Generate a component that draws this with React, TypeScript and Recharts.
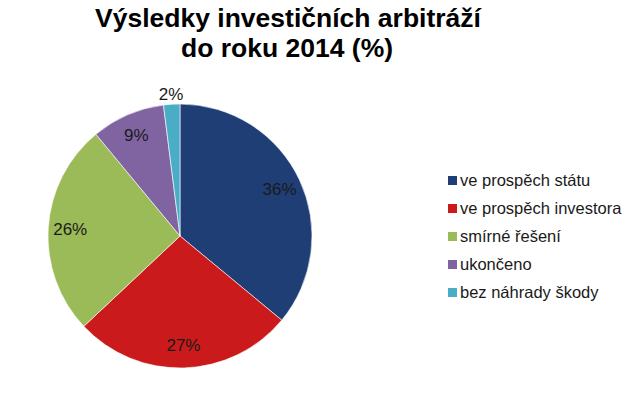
import React from 'react';
import { PieChart, Pie, Cell, Legend } from 'recharts';

const categories = ['ve prospěch státu', 've prospěch investora', 'smírné řešení', 'ukončeno', 'bez náhrady škody'];
const shares = [36, 27, 26, 9, 2];
const colors = ['#1F3E76', '#CB1A1C', '#9BBB59', '#8064A2', '#4BACC6'];
const titleLines = ['Výsledky investičních arbitráží', 'do roku 2014 (%)'];

const data = categories.map((name, i) => ({ name, value: shares[i] }));
const RADIAN = Math.PI / 180;
const font = 'Arial, "Liberation Sans", sans-serif';

const renderLabel = (props: any) => {
  const { cx, cy, midAngle, outerRadius, value } = props;
  // small slices get their label outside, the rest inside near the rim
  const r = value < 5 ? outerRadius + 10 : outerRadius - 22;
  const x = cx + r * Math.cos(-midAngle * RADIAN);
  const y = cy + r * Math.sin(-midAngle * RADIAN);
  return (
    <text x={x} y={y} textAnchor="middle" dominantBaseline="central" fontSize={17} fill="#1a1a1a" fontFamily={font}>
      {`${value}%`}
    </text>
  );
};

// legend in data order (recharts reverses it for pies)
const LegendList = () => (
  <div style={{ fontFamily: font, fontSize: 16.5, color: '#1a1a1a' }}>
    {categories.map((name, i) => (
      <div key={name} style={{ display: 'flex', alignItems: 'center', height: 28, whiteSpace: 'nowrap' }}>
        <span style={{ width: 9, height: 9, background: colors[i], marginRight: 3, display: 'inline-block' }} />
        <span>{name}</span>
      </div>
    ))}
  </div>
);

export default function App() {
  return (
    <div style={{ position: 'fixed', top: 0, left: 0, width: 625, height: 394, background: '#fff' }}>
      <PieChart width={625} height={394} margin={{ top: 0, right: 0, bottom: 0, left: 0 }}>
        <text x={288} y={27} textAnchor="middle" fontSize={26.5} fontWeight="bold" fill="#000" fontFamily={font}>
          {titleLines[0]}
        </text>
        <text x={287} y={57} textAnchor="middle" fontSize={26.5} fontWeight="bold" fill="#000" fontFamily={font}>
          {titleLines[1]}
        </text>
        <Pie
          data={data}
          dataKey="value"
          nameKey="name"
          cx={180}
          cy={236}
          outerRadius={132}
          startAngle={90}
          endAngle={-270}
          stroke="#ffffff"
          strokeWidth={0.6}
          label={renderLabel}
          labelLine={false}
          isAnimationActive={false}
        >
          {data.map((d, i) => (
            <Cell key={d.name} fill={colors[i]} />
          ))}
        </Pie>
        <Legend
          layout="vertical"
          content={<LegendList />}
          wrapperStyle={{ position: 'absolute', left: 448, top: 166, width: 177 }}
        />
      </PieChart>
    </div>
  );
}
